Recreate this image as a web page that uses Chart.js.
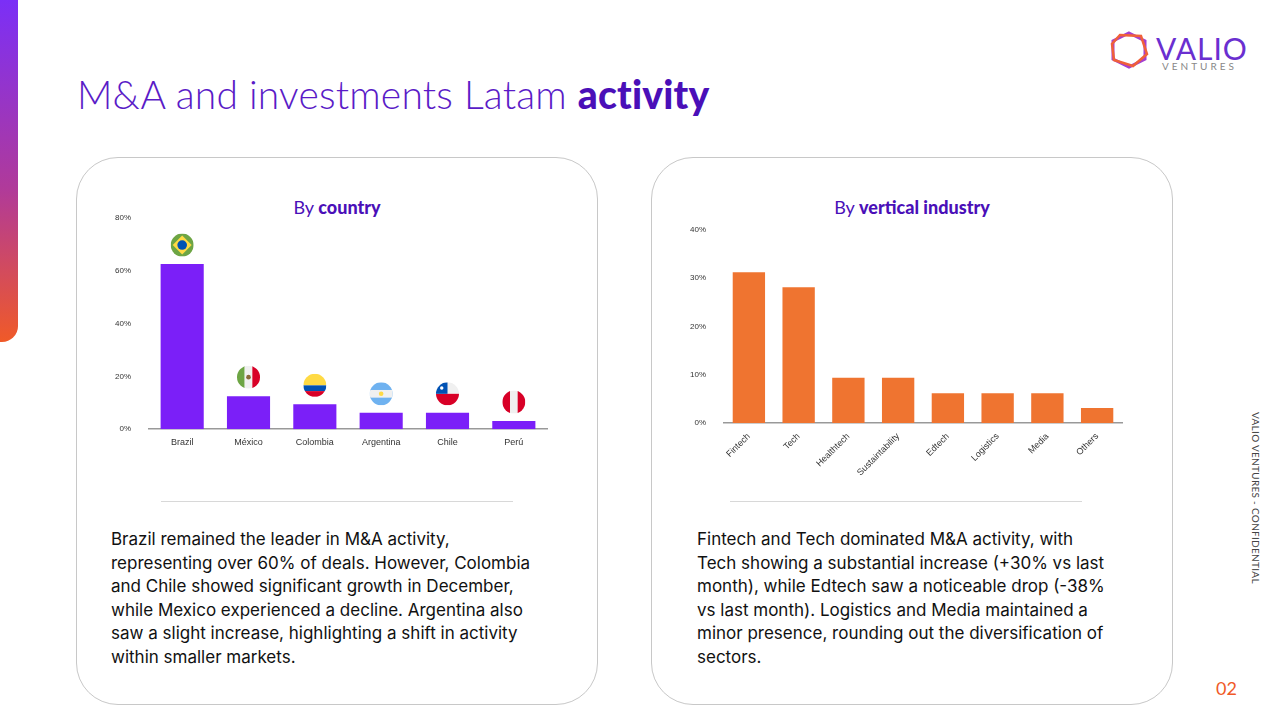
<!DOCTYPE html>
<html>
<head>
<meta charset="utf-8">
<script src="https://cdn.jsdelivr.net/npm/chart.js@4.4.1/dist/chart.umd.min.js"></script>
<style>
  body { margin: 0; width: 1280px; height: 720px; background: #fff; position: relative; overflow: hidden; font-family: Lato, sans-serif; }
  .sidebar { position: absolute; left: 0; top: 0; width: 18px; height: 342px; border-bottom-right-radius: 16px;
    background: linear-gradient(#7b2ff7, #b03a9a 55%, #f05a28); }
  h1 { position: absolute; left: 77px; top: 71px; margin: 0; font-weight: 300; font-size: 39px; color: #5a1bc7; letter-spacing: 0.2px; }
  h1 b { font-weight: 900; color: #4a0fb8; }
  .card { position: absolute; top: 157px; width: 520px; height: 546px; border: 1px solid #c8c8c8; border-radius: 42px; }
  .sub { position: absolute; width: 100%; text-align: center; top: 38px; font-size: 18px; color: #4a0fb8; }
  .sub b { font-weight: 900; }
  .sep { position: absolute; top: 343px; height: 1px; background: #d8d8d8; }
  .txt { position: absolute; top: 370px; font-family: Inter, sans-serif; font-size: 17px; line-height: 23.5px; color: #111; white-space: nowrap; }
  .side { position: absolute; left: 1250px; top: 412px; writing-mode: vertical-rl; font-size: 10px; color: #444; letter-spacing: 0.3px; }
  .pg { position: absolute; left: 1216px; top: 677px; font-size: 18px; color: #f05a28; }
  .logo { position: absolute; left: 1108px; top: 30px; }
  .logo .v { position: absolute; left: 48px; top: 0; font-size: 30px; color: #6a2fd0; letter-spacing: 1px; }
  .logo .s { position: absolute; left: 54px; top: 30px; font-size: 10px; color: #888; letter-spacing: 3px; }
  canvas { position: absolute; }
</style>
</head>
<body>
<div class="sidebar"></div>
<h1>M&amp;A and investments Latam <b>activity</b></h1>
<div class="logo">
  <svg width="42" height="40" viewBox="0 0 42 40">
    <polygon points="21,3 37,11 37,29 21,37 5,29 5,11" fill="none" stroke="#a43fd0" stroke-width="3"/>
    <polygon points="12,5 33,6 39,24 25,36 6,30 4,14" fill="none" stroke="#f0603a" stroke-width="2.5"/>
  </svg>
  <div class="v">VALIO</div><div class="s">VENTURES</div>
</div>

<div class="card" style="left:76px">
  <div class="sub">By <b>country</b></div>
  <div class="sep" style="left:84px;width:352px"></div>
  <div class="txt" style="left:34px">Brazil remained the leader in M&amp;A activity,<br>representing over 60% of deals. However, Colombia<br>and Chile showed significant growth in December,<br>while Mexico experienced a decline. Argentina also<br>saw a slight increase, highlighting a shift in activity<br>within smaller markets.</div>
</div>
<div class="card" style="left:651px">
  <div class="sub">By <b>vertical industry</b></div>
  <div class="sep" style="left:78px;width:352px"></div>
  <div class="txt" style="left:45px">Fintech and Tech dominated M&amp;A activity, with<br>Tech showing a substantial increase (+30% vs last<br>month), while Edtech saw a noticeable drop (-38%<br>vs last month). Logistics and Media maintained a<br>minor presence, rounding out the diversification of<br>sectors.</div>
</div>

<canvas id="countryChart" style="left:105px;top:203px;width:450px;height:248px" width="450" height="248"></canvas>
<canvas id="verticalChart" style="left:680px;top:215px;width:450px;height:266px" width="450" height="266"></canvas>

<div class="side">VALIO VENTURES - CONFIDENTIAL</div>
<div class="pg">02</div>

<script>
const countries = ['Brazil', 'México', 'Colombia', 'Argentina', 'Chile', 'Perú'];
const countryShare = [62.5, 12.5, 9.4, 6.2, 6.2, 3.1];
const countryTicks = [0, 20, 40, 60, 80];

const verticals = ['Fintech', 'Tech', 'Healthtech', 'Sustaintability', 'Edtech', 'Logistics', 'Media', 'Others'];
const verticalShare = [31.2, 28.1, 9.4, 9.4, 6.2, 6.2, 6.2, 3.1];
const verticalTicks = [0, 10, 20, 30, 40];

Chart.defaults.font.family = 'Arial, "Liberation Sans", sans-serif';
Chart.defaults.color = '#333';

// simple circular flags drawn above each bar
function drawFlag(c, name, x, y, r) {
  c.save();
  c.beginPath(); c.arc(x, y, r, 0, Math.PI * 2); c.clip();
  const L = x - r, T = y - r, S = 2 * r;
  if (name === 'Brazil') {
    c.fillStyle = '#6da544'; c.fillRect(L, T, S, S);
    c.fillStyle = '#ffda44'; c.beginPath(); c.moveTo(x, T + 2); c.lineTo(L + S - 2, y); c.lineTo(x, T + S - 2); c.lineTo(L + 2, y); c.fill();
    c.fillStyle = '#0052b4'; c.beginPath(); c.arc(x, y, r * 0.42, 0, Math.PI * 2); c.fill();
  } else if (name === 'México') {
    c.fillStyle = '#6da544'; c.fillRect(L, T, S / 3, S);
    c.fillStyle = '#f0f0f0'; c.fillRect(L + S / 3, T, S / 3, S);
    c.fillStyle = '#d80027'; c.fillRect(L + 2 * S / 3, T, S / 3, S);
    c.fillStyle = '#8a6a3a'; c.beginPath(); c.arc(x, y, r * 0.2, 0, Math.PI * 2); c.fill();
  } else if (name === 'Colombia') {
    c.fillStyle = '#ffda44'; c.fillRect(L, T, S, S / 2);
    c.fillStyle = '#0052b4'; c.fillRect(L, y, S, S / 4);
    c.fillStyle = '#d80027'; c.fillRect(L, y + S / 4, S, S / 4);
  } else if (name === 'Argentina') {
    c.fillStyle = '#6fb2f0'; c.fillRect(L, T, S, S);
    c.fillStyle = '#f0f0f0'; c.fillRect(L, T + S / 3, S, S / 3);
    c.fillStyle = '#ffda44'; c.beginPath(); c.arc(x, y, r * 0.2, 0, Math.PI * 2); c.fill();
  } else if (name === 'Chile') {
    c.fillStyle = '#f0f0f0'; c.fillRect(L, T, S, S / 2);
    c.fillStyle = '#d80027'; c.fillRect(L, y, S, S / 2);
    c.fillStyle = '#0052b4'; c.fillRect(L, T, S / 2, S / 2);
    c.fillStyle = '#fff'; c.beginPath(); c.arc(L + S / 4, T + S / 4, r * 0.15, 0, Math.PI * 2); c.fill();
  } else if (name === 'Perú') {
    c.fillStyle = '#f0f0f0'; c.fillRect(L, T, S, S);
    c.fillStyle = '#d80027'; c.fillRect(L, T, S / 3, S); c.fillRect(L + 2 * S / 3, T, S / 3, S);
  }
  c.restore();
}

const flagPlugin = {
  id: 'flags',
  afterDatasetsDraw(chart) {
    const meta = chart.getDatasetMeta(0);
    meta.data.forEach((bar, i) => {
      drawFlag(chart.ctx, countries[i], bar.x, bar.y - 19, 11.5);
    });
  }
};

function axisOpts(ticks, max, rotate) {
  return {
    x: {
      grid: { display: false, drawTicks: true, tickLength: 5, tickColor: '#333' },
      border: { color: '#999', width: 1.5 },
      ticks: { font: { size: 9 }, maxRotation: rotate, minRotation: rotate, color: '#333' }
    },
    y: {
      min: 0, max: max,
      afterBuildTicks: (ax) => { ax.ticks = ticks.map(v => ({ value: v })); },
      grid: { display: false },
      border: { display: false },
      ticks: { font: { size: 8 }, callback: v => v + '%', color: '#333', padding: 10 }
    }
  };
}

new Chart(document.getElementById('countryChart'), {
  type: 'bar',
  data: { labels: countries, datasets: [{ data: countryShare, backgroundColor: '#7b1ff8', categoryPercentage: 0.65, barPercentage: 1 }] },
  options: {
    responsive: false, animation: false,
    plugins: { legend: { display: false }, tooltip: { enabled: false } },
    layout: { padding: { top: 4, right: 8 } },
    scales: axisOpts(countryTicks, 80, 0)
  },
  plugins: [flagPlugin]
});

new Chart(document.getElementById('verticalChart'), {
  type: 'bar',
  data: { labels: verticals, datasets: [{ data: verticalShare, backgroundColor: '#ef7430', categoryPercentage: 0.65, barPercentage: 1 }] },
  options: {
    responsive: false, animation: false,
    plugins: { legend: { display: false }, tooltip: { enabled: false } },
    layout: { padding: { top: 4, right: 8 } },
    scales: axisOpts(verticalTicks, 40, 45)
  }
});
</script>
</body>
</html>
